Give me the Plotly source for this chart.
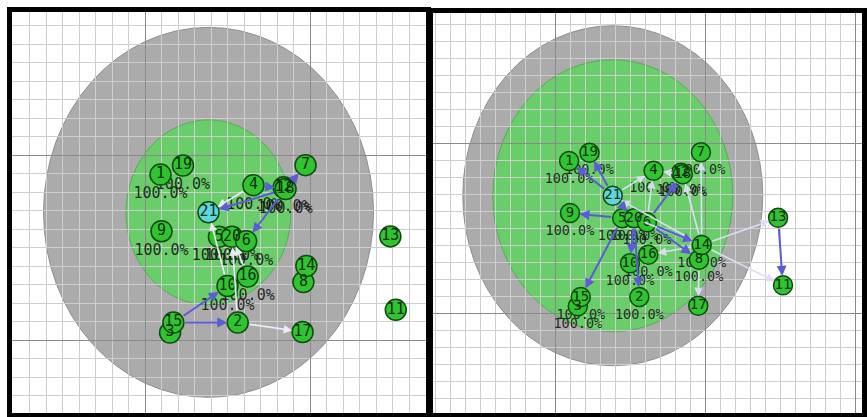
import plotly.graph_objects as go

# ---- network data -------------------------------------------------------
# node ids in drawing order (later entries sit on top of earlier ones)
node_ids = [3, 12, 8, 5, 20, 6, 1, 19, 4, 18, 7, 9, 13, 14, 16, 10, 11, 15, 2, 17, 21]
node_x = [11.52, 18.40, 19.60, 14.48, 15.27, 16.13, 10.94, 12.30, 16.57, 18.52, 19.73,
          11.00, 24.87, 19.78, 16.22, 15.00, 25.20, 11.72, 15.62, 19.55, 13.85]
node_y = [10.40, 18.25, 13.13, 15.58, 15.58, 15.34, 18.94, 19.43, 18.37, 18.16, 19.45,
          15.88, 15.60, 14.00, 13.43, 12.92, 11.63, 10.94, 10.94, 10.43, 16.90]
focal_node = 21

ring_center_x = 13.85
ring_center_y = 16.90
outer_radius = 10.0
inner_radius_left = 5.0
inner_radius_right = 8.0

# nodes carrying a share label, and the share shown
labeled_left = [1, 19, 9, 4, 12, 18, 5, 20, 6, 10, 16]
labeled_right = [1, 19, 9, 4, 12, 18, 7, 5, 20, 6, 10, 16, 14, 8, 2, 15, 3]
share_value = 100.0

# directed ties (source, target)
strong_left = [(15, 10), (15, 2), (4, 18), (18, 7), (18, 21), (18, 6)]
weak_left = [(2, 17), (4, 21), (10, 21), (2, 20), (16, 20)]

strong_right = [(21, 1), (21, 19), (21, 20), (5, 9), (5, 15), (20, 10), (20, 2),
                (6, 14), (6, 8), (6, 18), (13, 11)]
weak_right = [(14, 7), (14, 18), (21, 4), (14, 21), (14, 13), (14, 11), (14, 16),
              (8, 17), (6, 4), (20, 14), (18, 4)]

# ---- styling --------------------------------------------------------------
W, H = 867, 417
GRAY = "#ababab"
GREEN = "#69cd69"
NODE_FILL = "#30c430"
FOCAL_FILL = "#5ed6de"
NODE_EDGE = "#0f4a0f"
STRONG = "rgb(92,92,214)"
WEAK_LEFT = "rgba(240,240,252,0.95)"
WEAK_RIGHT = "rgba(222,222,248,0.95)"

pos = {n: (x, y) for n, x, y in zip(node_ids, node_x, node_y)}

panels = [
    dict(xa="x", ya="y", xpx=(12, 426), ypx=(12, 413), x_origin=145, x_scale=16.5,
         y_origin=340, y_scale=18.5, inner=inner_radius_left, labeled=labeled_left,
         strong=strong_left, weak=weak_left, weak_color=WEAK_LEFT,
         num_size=15, pct_size=15, msize=21),
    dict(xa="x2", ya="y2", xpx=(433, 862), ypx=(13, 413), x_origin=555, x_scale=15.0,
         y_origin=313, y_scale=17.0, inner=inner_radius_right, labeled=labeled_right,
         strong=strong_right, weak=weak_right, weak_color=WEAK_RIGHT,
         num_size=14, pct_size=13.5, msize=19),
]

fig = go.Figure()
shapes, annotations = [], []
layout_axes = {}

for i, p in enumerate(panels):
    xa, ya = p["xa"], p["ya"]
    x_range = [10 + (p["xpx"][0] - p["x_origin"]) / p["x_scale"],
               10 + (p["xpx"][1] - p["x_origin"]) / p["x_scale"]]
    y_range = [10 + (p["y_origin"] - p["ypx"][1]) / p["y_scale"],
               10 + (p["y_origin"] - p["ypx"][0]) / p["y_scale"]]
    common = dict(showgrid=True, gridcolor="#8a8a8a", gridwidth=1.3, dtick=10, tick0=0,
                  minor=dict(dtick=1, tick0=0, showgrid=True, gridcolor="#cecece",
                             gridwidth=1.3),
                  showticklabels=False, ticks="", zeroline=False, showline=True,
                  mirror=True, linecolor="black", linewidth=5, fixedrange=True)
    suffix = "" if i == 0 else str(i + 1)
    layout_axes["xaxis" + suffix] = dict(common, range=x_range, anchor=ya,
                                         domain=[p["xpx"][0] / W, p["xpx"][1] / W])
    layout_axes["yaxis" + suffix] = dict(common, range=y_range, anchor=xa,
                                         domain=[1 - p["ypx"][1] / H, 1 - p["ypx"][0] / H])

    # concentric rings around the focal node
    for r, fill, edge in [(outer_radius, GRAY, "#8e8e8e"), (p["inner"], GREEN, "#5aa95a")]:
        shapes.append(dict(type="circle", xref=xa, yref=ya, layer="below",
                           x0=ring_center_x - r, x1=ring_center_x + r,
                           y0=ring_center_y - r, y1=ring_center_y + r,
                           fillcolor=fill, line=dict(color=edge, width=1)))

    # ties as arrows
    for edges, color, width in [(p["weak"], p["weak_color"], 1.7), (p["strong"], STRONG, 2.0)]:
        for s, t in edges:
            annotations.append(dict(x=pos[t][0], y=pos[t][1], ax=pos[s][0], ay=pos[s][1],
                                    xref=xa, yref=ya, axref=xa, ayref=ya, text="",
                                    showarrow=True, arrowhead=2, arrowsize=1,
                                    arrowwidth=width, arrowcolor=color,
                                    standoff=p["msize"] / 2, startstandoff=p["msize"] / 2))

    # share labels below the nodes inside the inner ring
    lab = [n for n in node_ids if n in p["labeled"]]
    fig.add_trace(go.Scatter(
        x=[pos[n][0] for n in lab], y=[pos[n][1] - 1.07 for n in lab],
        mode="text", text=[f"{share_value:.1f}%" for _ in lab],
        textfont=dict(family="DejaVu Sans Mono", size=p["pct_size"], color="rgba(25,25,25,0.92)"),
        xaxis=xa, yaxis=ya, hoverinfo="skip", showlegend=False))

    # nodes
    fig.add_trace(go.Scatter(
        x=node_x, y=node_y, mode="markers+text", text=[str(n) for n in node_ids],
        textposition="middle center",
        textfont=dict(family="DejaVu Sans Mono", size=p["num_size"], color="#0c2f0c"),
        marker=dict(size=p["msize"],
                    color=[FOCAL_FILL if n == focal_node else NODE_FILL for n in node_ids],
                    line=dict(color=NODE_EDGE, width=1.5)),
        xaxis=xa, yaxis=ya, hoverinfo="skip", showlegend=False))

fig.update_layout(width=W, height=H, autosize=False,
                  margin=dict(l=0, r=0, t=0, b=0, pad=0),
                  paper_bgcolor="white", plot_bgcolor="white",
                  shapes=shapes, annotations=annotations, **layout_axes)

fig.write_html("out.html", config={"displayModeBar": False})
